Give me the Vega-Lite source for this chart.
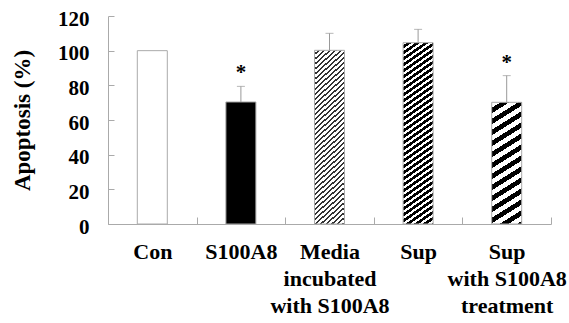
{
  "$schema": "https://vega.github.io/schema/vega-lite/v6.json",
  "width": 443,
  "height": 208,
  "autosize": {"type": "none"},
  "padding": {"left": 108, "top": 16, "right": 18, "bottom": 99},
  "background": "white",
  "config": {
    "view": {"stroke": null},
    "font": "Liberation Serif",
    "axis": {
      "domainColor": "#aaaaaa",
      "tickColor": "#aaaaaa",
      "grid": false,
      "labelFont": "Liberation Serif",
      "labelFontWeight": "bold",
      "labelFontSize": 21,
      "labelColor": "#000000",
      "titleFont": "Liberation Serif",
      "titleFontWeight": "bold",
      "titleFontSize": 23,
      "titleColor": "#000000"
    }
  },
  "data": {
    "values": [
      {"group": "Con", "value": 100, "upper": null, "sig": ""},
      {"group": "S100A8", "value": 70.4, "upper": 79.4, "sig": "*"},
      {"group": "Media|incubated|with S100A8", "value": 100.2, "upper": 110, "sig": ""},
      {"group": "Sup", "value": 104.6, "upper": 112.3, "sig": ""},
      {"group": "Sup|with S100A8|treatment", "value": 70.2, "upper": 85.6, "sig": "*"}
    ]
  },
  "encoding": {
    "x": {
      "field": "group",
      "type": "nominal",
      "sort": null,
      "scale": {
        "domain": ["Con", "S100A8", "Media|incubated|with S100A8", "Sup", "Sup|with S100A8|treatment"],
        "paddingInner": 0,
        "paddingOuter": 0
      },
      "axis": {
        "title": null,
        "labelAngle": 0,
        "labelFontSize": 22,
        "labelExpr": "isValid(datum.value) ? split(datum.value, '|') : ''",
        "labelLineHeight": 27,
        "labelPadding": 24,
        "tickBand": "extent",
        "tickSize": -7,
        "labelBaseline": "top"
      }
    },
    "y": {
      "field": "value",
      "type": "quantitative",
      "title": "Apoptosis (%)",
      "scale": {"domain": [0, 120], "nice": false},
      "axis": {
        "values": [0, 20, 40, 60, 80, 100, 120],
        "tickSize": -6,
        "labelPadding": 25,
        "labelOffset": 3,
        "titleX": -86,
        "titleBaseline": "middle"
      }
    }
  },
  "layer": [
    {
      "transform": [{"filter": "datum.group == 'Con'"}],
      "mark": {"type": "bar", "width": 30, "fill": "#ffffff", "stroke": "#aaaaaa", "strokeWidth": 1}
    },
    {
      "transform": [{"filter": "datum.group == 'S100A8'"}],
      "mark": {"type": "bar", "width": 30, "fill": "#000000", "stroke": "#aaaaaa", "strokeWidth": 1}
    },
    {
      "transform": [{"filter": "datum.group == 'Media|incubated|with S100A8'"}],
      "mark": {"type": "bar", "width": 30, "stroke": "#aaaaaa", "strokeWidth": 1,
        "fill": {"gradient": "linear", "x1": 0, "y1": 0, "x2": 0.2195, "y2": 1.4084, "stops": [
{"offset":0,"color":"#fff"},{"offset":0.012,"color":"#fff"},{"offset":0.012,"color":"#333"},{"offset":0.02,"color":"#333"},
{"offset":0.02,"color":"#fff"},{"offset":0.032,"color":"#fff"},{"offset":0.032,"color":"#333"},{"offset":0.04,"color":"#333"},
{"offset":0.04,"color":"#fff"},{"offset":0.052,"color":"#fff"},{"offset":0.052,"color":"#333"},{"offset":0.06,"color":"#333"},
{"offset":0.06,"color":"#fff"},{"offset":0.072,"color":"#fff"},{"offset":0.072,"color":"#333"},{"offset":0.08,"color":"#333"},
{"offset":0.08,"color":"#fff"},{"offset":0.092,"color":"#fff"},{"offset":0.092,"color":"#333"},{"offset":0.1,"color":"#333"},
{"offset":0.1,"color":"#fff"},{"offset":0.112,"color":"#fff"},{"offset":0.112,"color":"#333"},{"offset":0.12,"color":"#333"},
{"offset":0.12,"color":"#fff"},{"offset":0.132,"color":"#fff"},{"offset":0.132,"color":"#333"},{"offset":0.14,"color":"#333"},
{"offset":0.14,"color":"#fff"},{"offset":0.152,"color":"#fff"},{"offset":0.152,"color":"#333"},{"offset":0.16,"color":"#333"},
{"offset":0.16,"color":"#fff"},{"offset":0.172,"color":"#fff"},{"offset":0.172,"color":"#333"},{"offset":0.18,"color":"#333"},
{"offset":0.18,"color":"#fff"},{"offset":0.192,"color":"#fff"},{"offset":0.192,"color":"#333"},{"offset":0.2,"color":"#333"},
{"offset":0.2,"color":"#fff"},{"offset":0.212,"color":"#fff"},{"offset":0.212,"color":"#333"},{"offset":0.22,"color":"#333"},
{"offset":0.22,"color":"#fff"},{"offset":0.232,"color":"#fff"},{"offset":0.232,"color":"#333"},{"offset":0.24,"color":"#333"},
{"offset":0.24,"color":"#fff"},{"offset":0.252,"color":"#fff"},{"offset":0.252,"color":"#333"},{"offset":0.26,"color":"#333"},
{"offset":0.26,"color":"#fff"},{"offset":0.272,"color":"#fff"},{"offset":0.272,"color":"#333"},{"offset":0.28,"color":"#333"},
{"offset":0.28,"color":"#fff"},{"offset":0.292,"color":"#fff"},{"offset":0.292,"color":"#333"},{"offset":0.3,"color":"#333"},
{"offset":0.3,"color":"#fff"},{"offset":0.312,"color":"#fff"},{"offset":0.312,"color":"#333"},{"offset":0.32,"color":"#333"},
{"offset":0.32,"color":"#fff"},{"offset":0.332,"color":"#fff"},{"offset":0.332,"color":"#333"},{"offset":0.34,"color":"#333"},
{"offset":0.34,"color":"#fff"},{"offset":0.352,"color":"#fff"},{"offset":0.352,"color":"#333"},{"offset":0.36,"color":"#333"},
{"offset":0.36,"color":"#fff"},{"offset":0.372,"color":"#fff"},{"offset":0.372,"color":"#333"},{"offset":0.38,"color":"#333"},
{"offset":0.38,"color":"#fff"},{"offset":0.392,"color":"#fff"},{"offset":0.392,"color":"#333"},{"offset":0.4,"color":"#333"},
{"offset":0.4,"color":"#fff"},{"offset":0.412,"color":"#fff"},{"offset":0.412,"color":"#333"},{"offset":0.42,"color":"#333"},
{"offset":0.42,"color":"#fff"},{"offset":0.432,"color":"#fff"},{"offset":0.432,"color":"#333"},{"offset":0.44,"color":"#333"},
{"offset":0.44,"color":"#fff"},{"offset":0.452,"color":"#fff"},{"offset":0.452,"color":"#333"},{"offset":0.46,"color":"#333"},
{"offset":0.46,"color":"#fff"},{"offset":0.472,"color":"#fff"},{"offset":0.472,"color":"#333"},{"offset":0.48,"color":"#333"},
{"offset":0.48,"color":"#fff"},{"offset":0.492,"color":"#fff"},{"offset":0.492,"color":"#333"},{"offset":0.5,"color":"#333"},
{"offset":0.5,"color":"#fff"},{"offset":0.512,"color":"#fff"},{"offset":0.512,"color":"#333"},{"offset":0.52,"color":"#333"},
{"offset":0.52,"color":"#fff"},{"offset":0.532,"color":"#fff"},{"offset":0.532,"color":"#333"},{"offset":0.54,"color":"#333"},
{"offset":0.54,"color":"#fff"},{"offset":0.552,"color":"#fff"},{"offset":0.552,"color":"#333"},{"offset":0.56,"color":"#333"},
{"offset":0.56,"color":"#fff"},{"offset":0.572,"color":"#fff"},{"offset":0.572,"color":"#333"},{"offset":0.58,"color":"#333"},
{"offset":0.58,"color":"#fff"},{"offset":0.592,"color":"#fff"},{"offset":0.592,"color":"#333"},{"offset":0.6,"color":"#333"},
{"offset":0.6,"color":"#fff"},{"offset":0.612,"color":"#fff"},{"offset":0.612,"color":"#333"},{"offset":0.62,"color":"#333"},
{"offset":0.62,"color":"#fff"},{"offset":0.632,"color":"#fff"},{"offset":0.632,"color":"#333"},{"offset":0.64,"color":"#333"},
{"offset":0.64,"color":"#fff"},{"offset":0.652,"color":"#fff"},{"offset":0.652,"color":"#333"},{"offset":0.66,"color":"#333"},
{"offset":0.66,"color":"#fff"},{"offset":0.672,"color":"#fff"},{"offset":0.672,"color":"#333"},{"offset":0.68,"color":"#333"},
{"offset":0.68,"color":"#fff"},{"offset":0.692,"color":"#fff"},{"offset":0.692,"color":"#333"},{"offset":0.7,"color":"#333"},
{"offset":0.7,"color":"#fff"},{"offset":0.712,"color":"#fff"},{"offset":0.712,"color":"#333"},{"offset":0.72,"color":"#333"},
{"offset":0.72,"color":"#fff"},{"offset":0.732,"color":"#fff"},{"offset":0.732,"color":"#333"},{"offset":0.74,"color":"#333"},
{"offset":0.74,"color":"#fff"},{"offset":0.752,"color":"#fff"},{"offset":0.752,"color":"#333"},{"offset":0.76,"color":"#333"},
{"offset":0.76,"color":"#fff"},{"offset":0.772,"color":"#fff"},{"offset":0.772,"color":"#333"},{"offset":0.78,"color":"#333"},
{"offset":0.78,"color":"#fff"},{"offset":0.792,"color":"#fff"},{"offset":0.792,"color":"#333"},{"offset":0.8,"color":"#333"},
{"offset":0.8,"color":"#fff"},{"offset":0.812,"color":"#fff"},{"offset":0.812,"color":"#333"},{"offset":0.82,"color":"#333"}
        ]}}
    },
    {
      "transform": [{"filter": "datum.group == 'Sup'"}],
      "mark": {"type": "bar", "width": 30, "stroke": "#aaaaaa", "strokeWidth": 1,
        "fill": {"gradient": "linear", "x1": 0, "y1": 0, "x2": 0.1893, "y2": 1.6333, "stops": [
{"offset":0,"color":"#fff"},{"offset":0.009,"color":"#fff"},{"offset":0.009,"color":"#000"},{"offset":0.02,"color":"#000"},
{"offset":0.02,"color":"#fff"},{"offset":0.029,"color":"#fff"},{"offset":0.029,"color":"#000"},{"offset":0.04,"color":"#000"},
{"offset":0.04,"color":"#fff"},{"offset":0.049,"color":"#fff"},{"offset":0.049,"color":"#000"},{"offset":0.06,"color":"#000"},
{"offset":0.06,"color":"#fff"},{"offset":0.069,"color":"#fff"},{"offset":0.069,"color":"#000"},{"offset":0.08,"color":"#000"},
{"offset":0.08,"color":"#fff"},{"offset":0.089,"color":"#fff"},{"offset":0.089,"color":"#000"},{"offset":0.1,"color":"#000"},
{"offset":0.1,"color":"#fff"},{"offset":0.109,"color":"#fff"},{"offset":0.109,"color":"#000"},{"offset":0.12,"color":"#000"},
{"offset":0.12,"color":"#fff"},{"offset":0.129,"color":"#fff"},{"offset":0.129,"color":"#000"},{"offset":0.14,"color":"#000"},
{"offset":0.14,"color":"#fff"},{"offset":0.149,"color":"#fff"},{"offset":0.149,"color":"#000"},{"offset":0.16,"color":"#000"},
{"offset":0.16,"color":"#fff"},{"offset":0.169,"color":"#fff"},{"offset":0.169,"color":"#000"},{"offset":0.18,"color":"#000"},
{"offset":0.18,"color":"#fff"},{"offset":0.189,"color":"#fff"},{"offset":0.189,"color":"#000"},{"offset":0.2,"color":"#000"},
{"offset":0.2,"color":"#fff"},{"offset":0.209,"color":"#fff"},{"offset":0.209,"color":"#000"},{"offset":0.22,"color":"#000"},
{"offset":0.22,"color":"#fff"},{"offset":0.229,"color":"#fff"},{"offset":0.229,"color":"#000"},{"offset":0.24,"color":"#000"},
{"offset":0.24,"color":"#fff"},{"offset":0.249,"color":"#fff"},{"offset":0.249,"color":"#000"},{"offset":0.26,"color":"#000"},
{"offset":0.26,"color":"#fff"},{"offset":0.269,"color":"#fff"},{"offset":0.269,"color":"#000"},{"offset":0.28,"color":"#000"},
{"offset":0.28,"color":"#fff"},{"offset":0.289,"color":"#fff"},{"offset":0.289,"color":"#000"},{"offset":0.3,"color":"#000"},
{"offset":0.3,"color":"#fff"},{"offset":0.309,"color":"#fff"},{"offset":0.309,"color":"#000"},{"offset":0.32,"color":"#000"},
{"offset":0.32,"color":"#fff"},{"offset":0.329,"color":"#fff"},{"offset":0.329,"color":"#000"},{"offset":0.34,"color":"#000"},
{"offset":0.34,"color":"#fff"},{"offset":0.349,"color":"#fff"},{"offset":0.349,"color":"#000"},{"offset":0.36,"color":"#000"},
{"offset":0.36,"color":"#fff"},{"offset":0.369,"color":"#fff"},{"offset":0.369,"color":"#000"},{"offset":0.38,"color":"#000"},
{"offset":0.38,"color":"#fff"},{"offset":0.389,"color":"#fff"},{"offset":0.389,"color":"#000"},{"offset":0.4,"color":"#000"},
{"offset":0.4,"color":"#fff"},{"offset":0.409,"color":"#fff"},{"offset":0.409,"color":"#000"},{"offset":0.42,"color":"#000"},
{"offset":0.42,"color":"#fff"},{"offset":0.429,"color":"#fff"},{"offset":0.429,"color":"#000"},{"offset":0.44,"color":"#000"},
{"offset":0.44,"color":"#fff"},{"offset":0.449,"color":"#fff"},{"offset":0.449,"color":"#000"},{"offset":0.46,"color":"#000"},
{"offset":0.46,"color":"#fff"},{"offset":0.469,"color":"#fff"},{"offset":0.469,"color":"#000"},{"offset":0.48,"color":"#000"},
{"offset":0.48,"color":"#fff"},{"offset":0.489,"color":"#fff"},{"offset":0.489,"color":"#000"},{"offset":0.5,"color":"#000"},
{"offset":0.5,"color":"#fff"},{"offset":0.509,"color":"#fff"},{"offset":0.509,"color":"#000"},{"offset":0.52,"color":"#000"},
{"offset":0.52,"color":"#fff"},{"offset":0.529,"color":"#fff"},{"offset":0.529,"color":"#000"},{"offset":0.54,"color":"#000"},
{"offset":0.54,"color":"#fff"},{"offset":0.549,"color":"#fff"},{"offset":0.549,"color":"#000"},{"offset":0.56,"color":"#000"},
{"offset":0.56,"color":"#fff"},{"offset":0.569,"color":"#fff"},{"offset":0.569,"color":"#000"},{"offset":0.58,"color":"#000"},
{"offset":0.58,"color":"#fff"},{"offset":0.589,"color":"#fff"},{"offset":0.589,"color":"#000"},{"offset":0.6,"color":"#000"},
{"offset":0.6,"color":"#fff"},{"offset":0.609,"color":"#fff"},{"offset":0.609,"color":"#000"},{"offset":0.62,"color":"#000"},
{"offset":0.62,"color":"#fff"},{"offset":0.629,"color":"#fff"},{"offset":0.629,"color":"#000"},{"offset":0.64,"color":"#000"},
{"offset":0.64,"color":"#fff"},{"offset":0.649,"color":"#fff"},{"offset":0.649,"color":"#000"},{"offset":0.66,"color":"#000"},
{"offset":0.66,"color":"#fff"},{"offset":0.669,"color":"#fff"},{"offset":0.669,"color":"#000"},{"offset":0.68,"color":"#000"},
{"offset":0.68,"color":"#fff"},{"offset":0.689,"color":"#fff"},{"offset":0.689,"color":"#000"},{"offset":0.7,"color":"#000"}
        ]}}
    },
    {
      "transform": [{"filter": "datum.group == 'Sup|with S100A8|treatment'"}],
      "mark": {"type": "bar", "width": 30, "stroke": "#aaaaaa", "strokeWidth": 1,
        "fill": {"gradient": "linear", "x1": 0, "y1": 0, "x2": 0.2721, "y2": 1.7663, "stops": [
{"offset":0,"color":"#fff"},{"offset":0.025,"color":"#fff"},{"offset":0.025,"color":"#000"},{"offset":0.05,"color":"#000"},
{"offset":0.05,"color":"#fff"},{"offset":0.075,"color":"#fff"},{"offset":0.075,"color":"#000"},{"offset":0.1,"color":"#000"},
{"offset":0.1,"color":"#fff"},{"offset":0.125,"color":"#fff"},{"offset":0.125,"color":"#000"},{"offset":0.15,"color":"#000"},
{"offset":0.15,"color":"#fff"},{"offset":0.175,"color":"#fff"},{"offset":0.175,"color":"#000"},{"offset":0.2,"color":"#000"},
{"offset":0.2,"color":"#fff"},{"offset":0.225,"color":"#fff"},{"offset":0.225,"color":"#000"},{"offset":0.25,"color":"#000"},
{"offset":0.25,"color":"#fff"},{"offset":0.275,"color":"#fff"},{"offset":0.275,"color":"#000"},{"offset":0.3,"color":"#000"},
{"offset":0.3,"color":"#fff"},{"offset":0.325,"color":"#fff"},{"offset":0.325,"color":"#000"},{"offset":0.35,"color":"#000"},
{"offset":0.35,"color":"#fff"},{"offset":0.375,"color":"#fff"},{"offset":0.375,"color":"#000"},{"offset":0.4,"color":"#000"},
{"offset":0.4,"color":"#fff"},{"offset":0.425,"color":"#fff"},{"offset":0.425,"color":"#000"},{"offset":0.45,"color":"#000"},
{"offset":0.45,"color":"#fff"},{"offset":0.475,"color":"#fff"},{"offset":0.475,"color":"#000"},{"offset":0.5,"color":"#000"},
{"offset":0.5,"color":"#fff"},{"offset":0.525,"color":"#fff"},{"offset":0.525,"color":"#000"},{"offset":0.55,"color":"#000"},
{"offset":0.55,"color":"#fff"},{"offset":0.575,"color":"#fff"},{"offset":0.575,"color":"#000"},{"offset":0.6,"color":"#000"},
{"offset":0.6,"color":"#fff"},{"offset":0.625,"color":"#fff"},{"offset":0.625,"color":"#000"},{"offset":0.65,"color":"#000"},
{"offset":0.65,"color":"#fff"},{"offset":0.675,"color":"#fff"},{"offset":0.675,"color":"#000"},{"offset":0.7,"color":"#000"}
        ]}}
    },
    {
      "transform": [{"filter": "datum.upper != null"}],
      "mark": {"type": "rule", "color": "#999999", "strokeWidth": 1},
      "encoding": {"y2": {"field": "upper"}}
    },
    {
      "transform": [{"filter": "datum.upper != null"}],
      "mark": {"type": "tick", "color": "#999999", "thickness": 1, "size": 8, "orient": "horizontal"},
      "encoding": {"y": {"field": "upper", "type": "quantitative", "title": "Apoptosis (%)"}}
    },
    {
      "transform": [{"filter": "datum.sig == '*'"}],
      "mark": {"type": "text", "font": "Liberation Serif", "fontWeight": "bold", "fontSize": 21, "baseline": "alphabetic", "dy": -7, "color": "#000000"},
      "encoding": {
        "y": {"field": "upper", "type": "quantitative", "title": "Apoptosis (%)"},
        "text": {"field": "sig"}
      }
    }
  ]
}
